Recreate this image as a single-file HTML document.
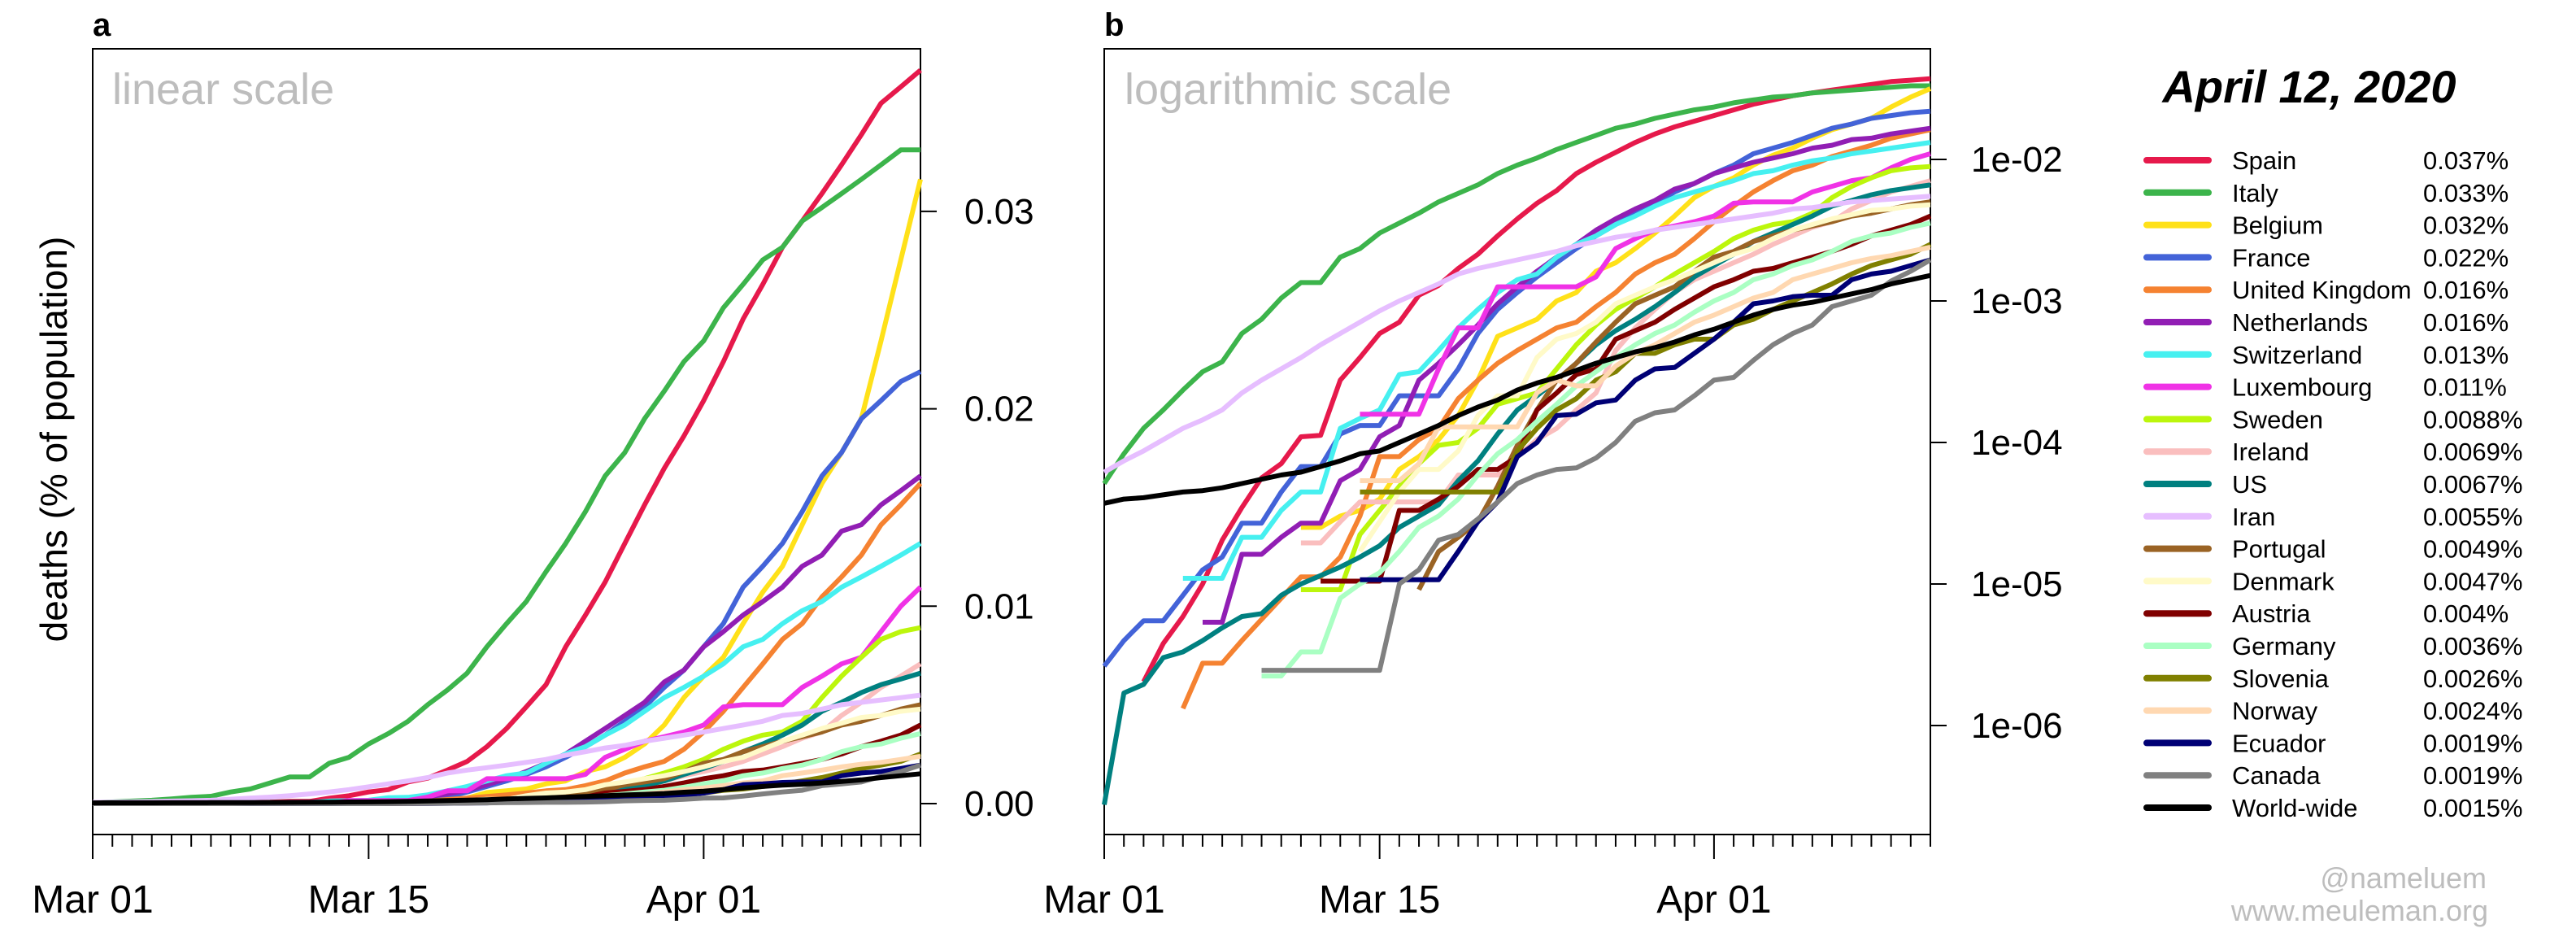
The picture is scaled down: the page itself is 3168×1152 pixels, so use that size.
<!DOCTYPE html>
<html><head><meta charset="utf-8"><title>COVID-19 deaths per population, linear and log scale</title>
<style>
html,body{margin:0;padding:0;background:#fff;}
svg{display:block;font-family:"Liberation Sans",Arial,sans-serif;}
</style></head>
<body>
<svg id="chart" width="3168" height="1152" viewBox="0 0 3168 1152" xmlns="http://www.w3.org/2000/svg">
  <rect x="0" y="0" width="3168" height="1152" fill="#fff"/>
  <g id="panelA"></g>
  <g id="panelB"></g>
  <g id="legend"></g>
  <text x="114" y="44" font-size="40" font-weight="bold">a</text>
  <text x="1358" y="44" font-size="40" font-weight="bold">b</text>
  <text x="138" y="128" font-size="54" fill="#bdbdbd">linear scale</text>
  <text x="1383" y="128" font-size="54" fill="#bdbdbd">logarithmic scale</text>
  <text transform="translate(82,540) rotate(-90)" text-anchor="middle" font-size="46">deaths (% of population)</text>
  <text x="2840" y="126" text-anchor="middle" font-size="56" font-weight="bold" font-style="italic">April 12, 2020</text>
  <text x="3058" y="1092" text-anchor="end" font-size="36" fill="#bdbdbd">@nameluem</text>
  <text x="3060" y="1132" text-anchor="end" font-size="36" fill="#bdbdbd">www.meuleman.org</text>
</svg>
<script>
const N = null;
// log10 of deaths (% of population), daily from Mar 01 (index 0) to Apr 12 (index 42)
const countries = ["Spain","Italy","Belgium","France","United Kingdom","Netherlands","Switzerland","Luxembourg","Sweden","Ireland","US","Iran","Portugal","Denmark","Austria","Germany","Slovenia","Norway","Ecuador","Canada","World-wide"];
const finalLabels = ["0.037%","0.033%","0.032%","0.022%","0.016%","0.016%","0.013%","0.011%","0.0088%","0.0069%","0.0067%","0.0055%","0.0049%","0.0047%","0.004%","0.0036%","0.0026%","0.0024%","0.0019%","0.0019%","0.0015%"];
const colors = ["#e6194b","#3cb44b","#ffe119","#4363d8","#f58231","#911eb4","#46f0f0","#f032e6","#bcf60c","#fabebe","#008080","#e6beff","#9a6324","#fffac8","#800000","#aaffc3","#808000","#ffd8b1","#000075","#808080","#000000"];
const spainLog = [N,N,-5.69,-5.42,-5.23,-5.00,-4.69,-4.46,-4.25,-4.15,-3.96,-3.95,-3.56,-3.40,-3.23,-3.15,-2.96,-2.89,-2.77,-2.67,-2.54,-2.42,-2.31,-2.22,-2.10,-2.02,-1.95,-1.88,-1.82,-1.77,-1.73,-1.69,-1.65,-1.61,-1.58,-1.55,-1.53,-1.51,-1.49,-1.47,-1.45,-1.44,-1.43];
const italyLog = [-4.29,-4.08,-3.90,-3.77,-3.63,-3.50,-3.43,-3.23,-3.13,-2.98,-2.87,-2.87,-2.69,-2.63,-2.52,-2.45,-2.38,-2.30,-2.24,-2.18,-2.10,-2.04,-1.99,-1.93,-1.88,-1.83,-1.78,-1.75,-1.71,-1.68,-1.65,-1.63,-1.60,-1.58,-1.56,-1.55,-1.53,-1.52,-1.51,-1.50,-1.49,-1.48,-1.48];
const belgiumLog = [N,N,N,N,N,N,N,N,N,N,-4.60,-4.60,-4.52,-4.48,-4.40,-4.19,-4.10,-3.98,-3.81,-3.56,-3.25,-3.19,-3.13,-3.00,-2.94,-2.79,-2.73,-2.63,-2.52,-2.40,-2.27,-2.19,-2.13,-2.04,-1.97,-1.92,-1.85,-1.79,-1.75,-1.71,-1.63,-1.56,-1.50];
const franceLog = [-5.58,-5.40,-5.26,-5.26,-5.08,-4.90,-4.81,-4.57,-4.57,-4.35,-4.17,-4.17,-3.94,-3.88,-3.88,-3.67,-3.67,-3.67,-3.48,-3.23,-3.06,-2.94,-2.83,-2.73,-2.63,-2.54,-2.46,-2.38,-2.31,-2.23,-2.17,-2.10,-2.04,-1.96,-1.92,-1.88,-1.83,-1.78,-1.75,-1.71,-1.69,-1.67,-1.66];
const ukLog = [N,N,N,N,-5.88,-5.56,-5.56,-5.40,-5.25,-5.10,-4.95,-4.95,-4.81,-4.52,-4.10,-4.10,-3.98,-3.90,-3.69,-3.56,-3.44,-3.35,-3.27,-3.19,-3.15,-3.04,-2.94,-2.81,-2.73,-2.67,-2.56,-2.44,-2.33,-2.23,-2.15,-2.08,-2.04,-1.98,-1.94,-1.90,-1.85,-1.82,-1.79];
const netherlandsLog = [N,N,N,N,N,-5.27,-5.27,-4.79,-4.79,-4.67,-4.57,-4.57,-4.27,-4.19,-3.96,-3.88,-3.56,-3.44,-3.31,-3.17,-3.02,-2.90,-2.79,-2.69,-2.60,-2.50,-2.42,-2.35,-2.29,-2.21,-2.17,-2.10,-2.06,-2.02,-1.99,-1.96,-1.92,-1.90,-1.86,-1.85,-1.82,-1.80,-1.78];
const switzerlandLog = [N,N,N,N,-4.96,-4.96,-4.96,-4.67,-4.67,-4.48,-4.35,-4.35,-3.90,-3.83,-3.77,-3.52,-3.50,-3.35,-3.19,-3.06,-2.94,-2.85,-2.81,-2.69,-2.60,-2.54,-2.46,-2.40,-2.33,-2.27,-2.23,-2.19,-2.15,-2.10,-2.08,-2.04,-2.01,-1.99,-1.96,-1.94,-1.92,-1.90,-1.88];
const luxembourgLog = [N,N,N,N,N,N,N,N,N,N,N,N,N,-3.80,-3.80,-3.80,-3.80,-3.48,-3.19,-3.19,-2.90,-2.90,-2.90,-2.90,-2.90,-2.83,-2.63,-2.56,-2.50,-2.47,-2.44,-2.40,-2.31,-2.30,-2.30,-2.30,-2.23,-2.19,-2.15,-2.13,-2.06,-2.00,-1.96];
const swedenLog = [N,N,N,N,N,N,N,N,N,N,-5.04,-5.04,-5.04,-4.65,-4.48,-4.31,-4.15,-4.02,-4.00,-3.90,-3.73,-3.69,-3.65,-3.48,-3.31,-3.17,-3.06,-2.98,-2.90,-2.81,-2.73,-2.65,-2.56,-2.50,-2.46,-2.44,-2.38,-2.27,-2.19,-2.13,-2.08,-2.06,-2.05];
const irelandLog = [N,N,N,N,N,N,N,N,N,N,-4.71,-4.71,-4.56,-4.42,-4.42,-4.42,-4.42,-4.42,-4.23,-4.23,-4.23,-4.10,-3.98,-3.90,-3.77,-3.65,-3.35,-3.19,-3.06,-2.94,-2.85,-2.79,-2.73,-2.67,-2.60,-2.54,-2.48,-2.44,-2.35,-2.29,-2.23,-2.19,-2.15];
const usLog = [-6.56,-5.77,-5.71,-5.52,-5.48,-5.40,-5.31,-5.23,-5.21,-5.08,-5.00,-4.94,-4.88,-4.81,-4.73,-4.60,-4.52,-4.44,-4.27,-4.13,-3.94,-3.77,-3.67,-3.56,-3.44,-3.31,-3.21,-3.13,-3.04,-2.94,-2.83,-2.75,-2.67,-2.58,-2.52,-2.46,-2.40,-2.33,-2.29,-2.25,-2.22,-2.20,-2.18];
const iranLog = [-4.21,-4.13,-4.06,-3.98,-3.90,-3.84,-3.77,-3.65,-3.56,-3.48,-3.40,-3.31,-3.23,-3.15,-3.07,-3.00,-2.94,-2.88,-2.81,-2.77,-2.74,-2.71,-2.68,-2.65,-2.61,-2.58,-2.55,-2.53,-2.50,-2.48,-2.46,-2.44,-2.42,-2.40,-2.38,-2.35,-2.34,-2.32,-2.30,-2.29,-2.28,-2.27,-2.26];
const portugalLog = [N,N,N,N,N,N,N,N,N,N,N,N,N,N,N,N,-5.04,-4.77,-4.67,-4.56,-4.31,-4.02,-3.77,-3.56,-3.44,-3.29,-3.15,-3.02,-2.96,-2.90,-2.79,-2.69,-2.65,-2.58,-2.54,-2.50,-2.47,-2.44,-2.40,-2.38,-2.35,-2.32,-2.30];
const denmarkLog = [N,N,N,N,N,N,N,N,N,N,N,N,N,-4.77,-4.56,-4.35,-4.19,-4.19,-4.06,-3.81,-3.67,-3.67,-3.40,-3.27,-3.23,-3.15,-3.02,-2.96,-2.90,-2.85,-2.79,-2.73,-2.67,-2.63,-2.56,-2.50,-2.46,-2.42,-2.39,-2.36,-2.35,-2.33,-2.32];
const austriaLog = [N,N,N,N,N,N,N,N,N,N,N,-4.98,-4.98,-4.98,-4.98,-4.48,-4.48,-4.40,-4.31,-4.19,-4.19,-4.10,-3.77,-3.65,-3.52,-3.48,-3.27,-3.21,-3.15,-3.06,-2.98,-2.90,-2.85,-2.79,-2.77,-2.73,-2.69,-2.65,-2.60,-2.54,-2.50,-2.46,-2.40];
const germanyLog = [N,N,N,N,N,N,N,N,-5.65,-5.65,-5.48,-5.48,-5.10,-5.00,-4.92,-4.77,-4.60,-4.52,-4.40,-4.23,-4.08,-3.98,-3.85,-3.73,-3.60,-3.50,-3.40,-3.31,-3.23,-3.17,-3.08,-3.00,-2.94,-2.85,-2.81,-2.75,-2.71,-2.65,-2.58,-2.54,-2.52,-2.48,-2.45];
const sloveniaLog = [N,N,N,N,N,N,N,N,N,N,N,N,N,-4.35,-4.35,-4.35,-4.35,-4.35,-4.35,-4.35,-4.35,-4.06,-3.90,-3.77,-3.69,-3.56,-3.50,-3.37,-3.37,-3.31,-3.27,-3.27,-3.17,-3.13,-3.06,-3.00,-2.94,-2.88,-2.81,-2.75,-2.71,-2.67,-2.60];
const norwayLog = [N,N,N,N,N,N,N,N,N,N,N,N,N,-4.27,-4.27,-4.27,-4.15,-3.89,-3.89,-3.89,-3.89,-3.89,-3.65,-3.56,-3.60,-3.60,-3.46,-3.37,-3.31,-3.23,-3.15,-3.10,-3.04,-2.98,-2.94,-2.85,-2.81,-2.77,-2.73,-2.70,-2.68,-2.65,-2.62];
const ecuadorLog = [N,N,N,N,N,N,N,N,N,N,N,N,N,-4.97,-4.97,-4.97,-4.97,-4.97,-4.77,-4.56,-4.42,-4.10,-4.00,-3.81,-3.80,-3.72,-3.70,-3.56,-3.48,-3.47,-3.37,-3.27,-3.15,-3.02,-3.00,-2.97,-2.96,-2.96,-2.85,-2.81,-2.79,-2.75,-2.71];
const canadaLog = [N,N,N,N,N,N,N,N,-5.61,-5.61,-5.61,-5.61,-5.61,-5.61,-5.61,-5.00,-4.90,-4.69,-4.65,-4.54,-4.42,-4.29,-4.23,-4.19,-4.18,-4.11,-4.00,-3.85,-3.79,-3.77,-3.67,-3.56,-3.54,-3.42,-3.31,-3.23,-3.17,-3.04,-3.00,-2.96,-2.86,-2.79,-2.71];
const worldLog = [-4.43,-4.40,-4.39,-4.37,-4.35,-4.34,-4.32,-4.29,-4.26,-4.23,-4.21,-4.17,-4.13,-4.08,-4.06,-4.00,-3.94,-3.88,-3.81,-3.75,-3.70,-3.63,-3.58,-3.54,-3.49,-3.44,-3.40,-3.36,-3.33,-3.29,-3.24,-3.20,-3.15,-3.10,-3.06,-3.03,-3.01,-2.98,-2.95,-2.92,-2.88,-2.85,-2.82];
const series = [spainLog,italyLog,belgiumLog,franceLog,ukLog,netherlandsLog,switzerlandLog,luxembourgLog,swedenLog,irelandLog,usLog,iranLog,portugalLog,denmarkLog,austriaLog,germanyLog,sloveniaLog,norwayLog,ecuadorLog,canadaLog,worldLog];
const dateTickDays = [0,14,31];
const dateTickLabels = ["Mar 01","Mar 15","Apr 01"];
const linTicks = [0,0.01,0.02,0.03];
const linTickLabels = ["0.00","0.01","0.02","0.03"];
const logTicks = [-2,-3,-4,-5,-6];
const logTickLabels = ["1e-02","1e-03","1e-04","1e-05","1e-06"];
const nDays = 43;

const NS = "http://www.w3.org/2000/svg";
function mk(tag, attrs, parent){
  const e = document.createElementNS(NS, tag);
  for (const k in attrs) e.setAttribute(k, attrs[k]);
  parent.appendChild(e);
  return e;
}
const TOP = 60, BOT = 1026;
const xA = d => 114 + d * (1018 / 42);
const xB = d => 1358 + d * (1016 / 42);
const yLin = v => 988 - v * 24270;
const yLog = L => 196 + (-2 - L) * 174;

function drawFrame(g, x0, x1, xf, name){
  const box = mk("rect", {x:x0, y:TOP, width:x1-x0, height:BOT-TOP, fill:"none", stroke:"#000", "stroke-width":2}, g);
  
  
  for (let d = 0; d < nDays; d++){
    const major = dateTickDays.indexOf(d) >= 0;
    const t = mk("line", {x1:xf(d), x2:xf(d), y1:BOT, y2:BOT + (major ? 30 : 15), stroke:"#000", "stroke-width":2}, g);
    
    
  }
  dateTickDays.forEach((d, i) => {
    const t = mk("text", {x:xf(d), y:1122, "text-anchor":"middle", "font-size":48}, g);
    t.textContent = dateTickLabels[i];
    
    
  });
}

const gA = document.getElementById("panelA");
const gB = document.getElementById("panelB");
drawFrame(gA, 114, 1132, xA, "linear");
drawFrame(gB, 1358, 2374, xB, "log");

linTicks.forEach((v, i) => {
  const t = mk("line", {x1:1132, x2:1152, y1:yLin(v), y2:yLin(v), stroke:"#000", "stroke-width":2}, gA);
  
  
  const l = mk("text", {x:1186, y:yLin(v) + 15, "font-size":44}, gA);
  l.textContent = linTickLabels[i];
  
  
});
logTicks.forEach((L, i) => {
  const t = mk("line", {x1:2374, x2:2394, y1:yLog(L), y2:yLog(L), stroke:"#000", "stroke-width":2}, gB);
  
  
  const l = mk("text", {x:2424, y:yLog(L) + 15, "font-size":44}, gB);
  l.textContent = logTickLabels[i];
  
  
});

series.forEach((s, k) => {
  let pa = "", pb = "";
  for (let d = 0; d < nDays; d++){
    const v = s[d] === null ? 0 : Math.pow(10, s[d]);
    pa += (d === 0 ? "M" : "L") + xA(d).toFixed(1) + "," + yLin(v).toFixed(1);
  }
  let started = false;
  for (let d = 0; d < nDays; d++){
    if (s[d] === null) continue;
    pb += (started ? "L" : "M") + xB(d).toFixed(1) + "," + yLog(s[d]).toFixed(1);
    started = true;
  }
  const lineA = mk("path", {d:pa, fill:"none", stroke:colors[k], "stroke-width":6, "stroke-linejoin":"round"}, gA);
  
  
  const lineB = mk("path", {d:pb, fill:"none", stroke:colors[k], "stroke-width":6, "stroke-linejoin":"round"}, gB);
  
  
});

const gL = document.getElementById("legend");
countries.forEach((c, i) => {
  const y = 197 + i * 39.8;
  const row = mk("g", {}, gL);
  
  
  const sw = mk("line", {x1:2640, x2:2716, y1:y, y2:y, stroke:colors[i], "stroke-width":8, "stroke-linecap":"round"}, row);
  
  
  const nm = mk("text", {x:2745, y:y + 11, "font-size":31}, row);
  nm.textContent = c;
  
  
  const vl = mk("text", {x:2980, y:y + 11, "font-size":31}, row);
  vl.textContent = finalLabels[i];
  
  
});
</script>
</body></html>
